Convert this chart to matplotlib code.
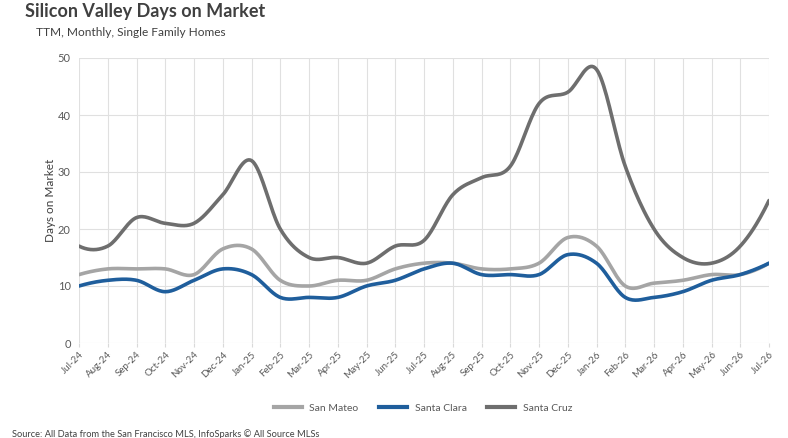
import numpy as np
import matplotlib
matplotlib.use("Agg")
import matplotlib.pyplot as plt
from matplotlib.lines import Line2D

months = ["Jul-24", "Aug-24", "Sep-24", "Oct-24", "Nov-24", "Dec-24", "Jan-25", "Feb-25",
          "Mar-25", "Apr-25", "May-25", "Jun-25", "Jul-25", "Aug-25", "Sep-25", "Oct-25",
          "Nov-25", "Dec-25", "Jan-26", "Feb-26", "Mar-26", "Apr-26", "May-26", "Jun-26", "Jul-26"]
san_mateo = [12, 13, 13, 13, 12, 16.5, 16.5, 11, 10, 11, 11, 13, 14, 14, 13, 13,
             14, 18.5, 17, 10, 10.5, 11, 12, 12, 14]
santa_clara = [10, 11, 11, 9, 11, 13, 12, 8, 8, 8, 10, 11, 13, 14, 12, 12,
               12, 15.5, 14, 8, 8, 9, 11, 12, 14]
santa_cruz = [17, 17, 22, 21, 21, 26, 32, 20, 15, 15, 14, 17, 18, 26, 29, 31,
              42, 44, 48, 31, 20, 15, 14, 17, 25]
series_names = ["San Mateo", "Santa Clara", "Santa Cruz"]
colors = ["#A5A5A5", "#1F5E9C", "#6E6E6E"]
y_ticks = [0, 10, 20, 30, 40, 50]


def smooth(y, n=20):
    y = np.asarray(y, dtype=float)
    x = np.arange(len(y), dtype=float)
    m = np.zeros_like(y)
    m[1:-1] = (y[2:] - y[:-2]) / 2.0
    m[0] = 2 * (y[1] - y[0]) - m[1]
    m[-1] = 2 * (y[-1] - y[-2]) - m[-2]
    xs, ys = [], []
    for i in range(len(y) - 1):
        t = np.linspace(0, 1, n, endpoint=False)
        h00 = 2 * t**3 - 3 * t**2 + 1
        h10 = t**3 - 2 * t**2 + t
        h01 = -2 * t**3 + 3 * t**2
        h11 = t**3 - t**2
        ys.append(h00 * y[i] + h10 * m[i] + h01 * y[i + 1] + h11 * m[i + 1])
        xs.append(x[i] + t)
    xs.append([x[-1]])
    ys.append([y[-1]])
    return np.concatenate(xs), np.concatenate(ys)


plt.rcParams['font.family'] = ['Lato', 'DejaVu Sans']

fig = plt.figure(figsize=(7.88, 4.38), dpi=100)
ax = fig.add_axes([79 / 788, 1 - 343 / 438, (769 - 79) / 788, (343 - 58) / 438])

for data, col in zip([san_mateo, santa_clara, santa_cruz], colors):
    xs, ys = smooth(data)
    ax.plot(xs, ys, color=col, lw=2.6, solid_capstyle='round', zorder=3)

ax.set_xlim(0, len(months) - 1)
ax.set_ylim(0, 50)
ax.set_xticks(range(len(months)))
ax.set_xticklabels(months, rotation=45, ha='right', rotation_mode='anchor',
                   fontsize=7, color='#595959')
ax.set_yticks(y_ticks)
ax.set_yticklabels([str(v) for v in y_ticks], fontsize=8, color='#595959')
ax.grid(True, color='#E0E0E0', lw=0.8)
ax.set_axisbelow(True)
for s in ax.spines.values():
    s.set_visible(False)
ax.tick_params(axis='x', length=3, color='#D9D9D9', pad=2)
ax.tick_params(axis='y', length=0, pad=6)
ax.set_ylabel("Days on Market", fontsize=8.5, color='#404040', labelpad=1)

fig.text(25 / 788, 1 - 11 / 438, "Silicon Valley Days on Market", fontsize=13,
         fontweight='bold', color='#404040', va='center', ha='left')
fig.text(36 / 788, 1 - 33 / 438, "TTM, Monthly, Single Family Homes", fontsize=8.6,
         color='#404040', va='center', ha='left')

handles = [Line2D([0], [0], color=c, lw=3) for c in colors]
fig.legend(handles, series_names, loc='center', bbox_to_anchor=(423 / 788, 1 - 408 / 438),
           ncol=3, frameon=False, fontsize=7.5, handlelength=2.7, handletextpad=0.7,
           columnspacing=2.0, labelcolor='#595959')

fig.text(12 / 788, 1 - 434 / 438,
         "Source: All Data from the San Francisco MLS, InfoSparks \u00a9 All Source MLSs",
         fontsize=6.7, color='#404040', va='center', ha='left')

fig.savefig("out.png", dpi=100)
